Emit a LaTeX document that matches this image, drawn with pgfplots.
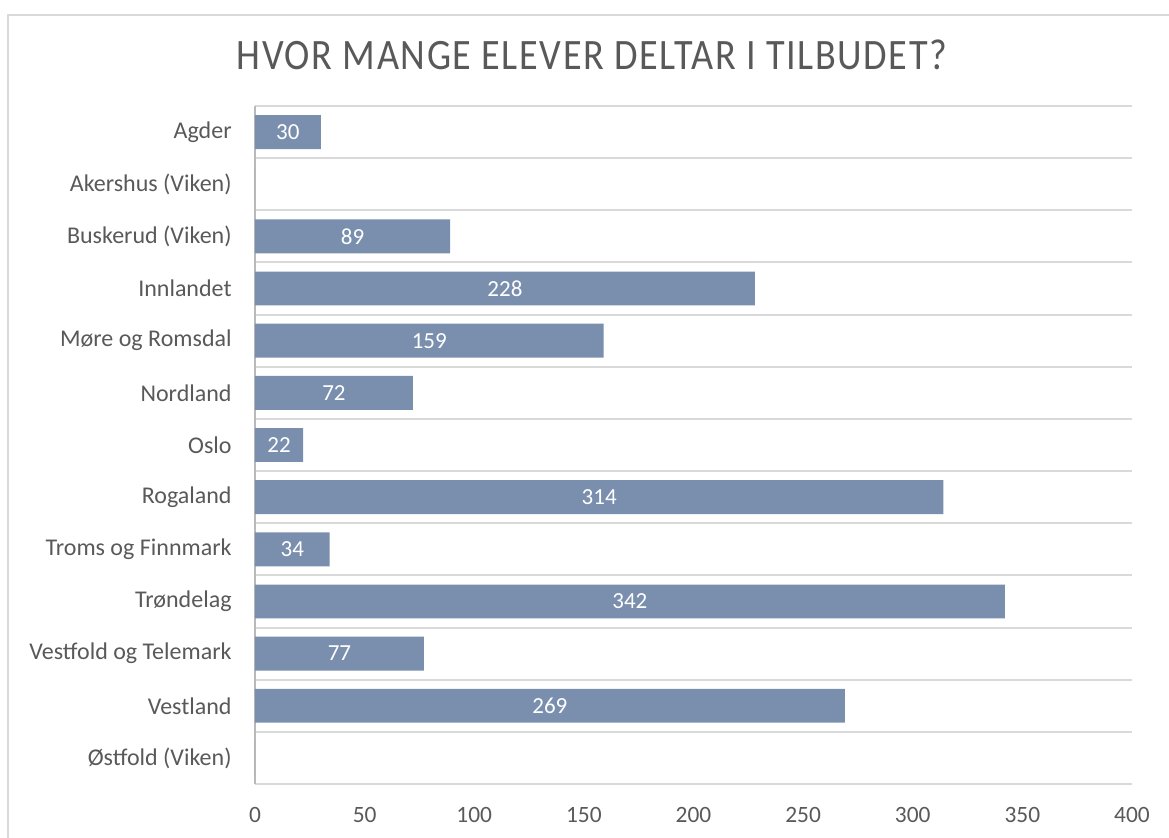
\documentclass[border=0pt]{standalone}
\usepackage{fontspec}
\setmainfont{Carlito}
\newfontfamily\titlefont[FakeStretch=0.88, LetterSpace=3.7]{Carlito}
\usepackage{pgfplots}
\pgfplotsset{compat=1.18}
\usepackage{pgfplotstable}
\definecolor{barblue}{RGB}{122,143,174}
\definecolor{txtgray}{RGB}{89,89,89}
\definecolor{gridgray}{RGB}{217,217,217}

% elever per fylke, idx = row from the top
\pgfplotstableread{
idx val
0 30
1 0
2 89
3 228
4 159
5 72
6 22
7 314
8 34
9 342
10 77
11 269
12 0
}\elever

\begin{document}
\begin{tikzpicture}
\path[use as bounding box] (0,0) rectangle (584.5pt,-419pt);
\draw[gridgray, line width=1pt] (3.75pt,-419pt) -- (3.75pt,-7.75pt) -- (584.5pt,-7.75pt);
\node[txtgray, font={\titlefont\fontsize{21.7}{24}\selectfont}] at (296pt,-27.5pt) {HVOR MANGE ELEVER DELTAR I TILBUDET?};
\begin{axis}[
  at={(127.5pt,-392pt)}, anchor=south west,
  scale only axis, width=438.5pt, height=339pt,
  xmin=0, xmax=400, ymin=-0.5, ymax=12.5, y dir=reverse,
  xtick={0,50,...,400},
  ytick={0,...,12},
  yticklabels={Agder, Akershus (Viken), Buskerud (Viken), Innlandet, Møre og Romsdal, Nordland, Oslo, Rogaland, Troms og Finnmark, Trøndelag, Vestfold og Telemark, Vestland, Østfold (Viken)},
  minor ytick={-0.5,0.5,...,12.5},
  yminorgrids=true,
  minor grid style={gridgray, line width=1pt},
  axis lines*=left,
  x axis line style={draw=none},
  y axis line style={-, draw=gray!55, line width=1pt},
  major tick length=0pt, minor tick length=0pt,
  ticklabel style={txtgray},
  yticklabel style={anchor=east, inner sep=0pt, xshift=-11.5pt, font=\fontsize{12}{14}\selectfont},
  xticklabel style={anchor=north, inner sep=0pt, yshift=-11.5pt, font=\fontsize{11.7}{14}\selectfont},
  /pgf/number format/assume math mode=true,
]
\addplot[xbar, bar width=0.65, fill=barblue, draw=none] table[x=val, y=idx] {\elever};
\addplot[only marks, mark=none, nodes near coords, point meta=explicit,
  nodes near coords style={white, anchor=center, font=\fontsize{11.5}{14}\selectfont},
  restrict x to domain=0.1:400]
  table[x expr=\thisrow{val}/2, y=idx, meta=val] {\elever};
\end{axis}
\end{tikzpicture}
\end{document}
